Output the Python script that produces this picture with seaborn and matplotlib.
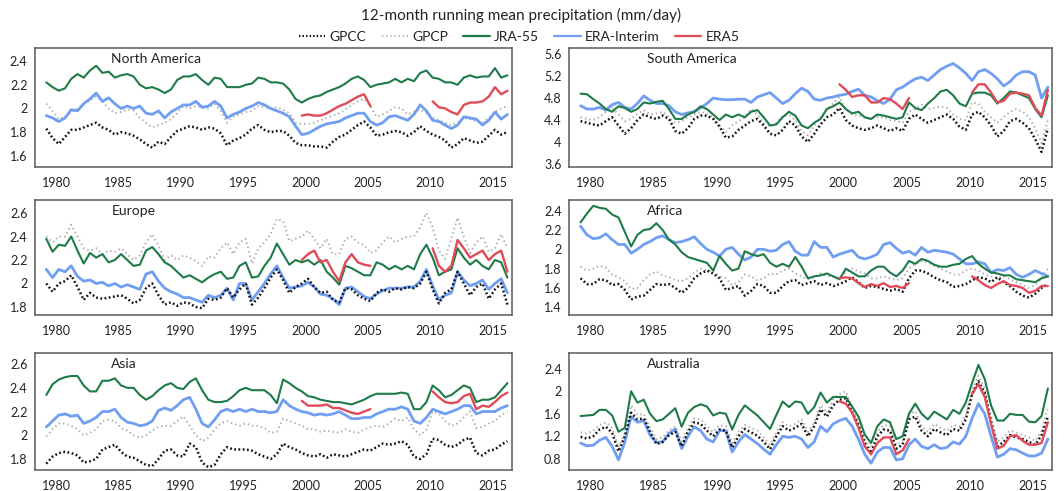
import numpy as np
import matplotlib
matplotlib.use("Agg")
import matplotlib.pyplot as plt
from matplotlib.lines import Line2D
from matplotlib.ticker import FuncFormatter, FixedLocator, MultipleLocator
import seaborn as sns

# semi-annual sampling positions of the 12-month running means
YEARS = np.round(np.arange(1979.2, 2016.25, 0.5), 2)
ERA5_A_YEARS = YEARS[41:53]
ERA5_B_YEARS = YEARS[62:75]

# ---------------- North America ----------------
na_gpcc = [1.83, 1.75, 1.70, 1.76, 1.82, 1.82, 1.84, 1.86, 1.88, 1.84,
           1.82, 1.78, 1.80, 1.79, 1.77, 1.74, 1.70, 1.67, 1.72, 1.70,
           1.76, 1.81, 1.83, 1.85, 1.84, 1.82, 1.84, 1.83, 1.79, 1.69,
           1.73, 1.75, 1.78, 1.83, 1.86, 1.82, 1.80, 1.81, 1.81, 1.77,
           1.71, 1.69, 1.69, 1.68, 1.68, 1.67, 1.72, 1.76, 1.78, 1.82,
           1.86, 1.89, 1.84, 1.77, 1.78, 1.80, 1.81, 1.80, 1.77, 1.80,
           1.85, 1.81, 1.78, 1.76, 1.73, 1.67, 1.70, 1.75, 1.73, 1.71,
           1.72, 1.77, 1.82, 1.78, 1.80]
na_gpcp = [2.04, 1.98, 1.91, 1.93, 1.97, 2.00, 2.04, 2.07, 2.10, 2.06,
           2.00, 1.96, 1.97, 1.99, 1.98, 1.92, 1.88, 1.84, 1.86, 1.88,
           1.91, 1.96, 2.02, 2.00, 2.02, 2.01, 2.00, 2.04, 1.98, 1.88,
           1.93, 1.95, 1.97, 1.98, 2.02, 2.01, 2.00, 2.01, 1.99, 1.96,
           1.88, 1.87, 1.87, 1.88, 1.90, 1.92, 1.94, 1.96, 1.99, 2.03,
           2.06, 2.08, 2.02, 1.93, 1.95, 1.98, 2.01, 2.00, 1.95, 1.97,
           1.99, 1.96, 1.92, 1.90, 1.88, 1.86, 1.88, 1.92, 1.91, 1.89,
           1.88, 1.92, 1.97, 2.00, 2.02]
na_jra = [2.22, 2.18, 2.15, 2.17, 2.25, 2.29, 2.26, 2.32, 2.36, 2.30,
          2.31, 2.26, 2.28, 2.29, 2.27, 2.20, 2.17, 2.18, 2.16, 2.13,
          2.16, 2.24, 2.27, 2.27, 2.29, 2.24, 2.20, 2.26, 2.25, 2.18,
          2.18, 2.18, 2.20, 2.21, 2.26, 2.25, 2.22, 2.22, 2.21, 2.16,
          2.08, 2.05, 2.08, 2.10, 2.11, 2.14, 2.16, 2.18, 2.21, 2.25,
          2.27, 2.24, 2.18, 2.20, 2.21, 2.22, 2.25, 2.22, 2.25, 2.23,
          2.30, 2.32, 2.26, 2.25, 2.22, 2.22, 2.20, 2.26, 2.28, 2.26,
          2.27, 2.27, 2.34, 2.26, 2.28]
na_erai = [1.94, 1.92, 1.89, 1.92, 1.99, 1.98, 2.04, 2.08, 2.13, 2.06,
           2.09, 2.04, 2.00, 2.02, 2.00, 2.02, 1.96, 1.95, 1.98, 1.92,
           1.97, 2.00, 2.03, 2.03, 2.06, 2.01, 2.02, 2.06, 2.02, 1.92,
           1.95, 1.97, 2.00, 2.02, 2.05, 2.03, 2.00, 1.98, 1.96, 1.93,
           1.85, 1.78, 1.79, 1.82, 1.85, 1.87, 1.88, 1.89, 1.92, 1.94,
           1.96, 1.96, 1.89, 1.86, 1.88, 1.93, 1.94, 1.92, 1.90, 1.95,
           2.03, 1.98, 1.90, 1.89, 1.86, 1.83, 1.86, 1.93, 1.92, 1.91,
           1.86, 1.90, 1.97, 1.91, 1.95]
na_era5_a = [1.94, 1.95, 1.94, 1.94, 1.96, 1.99, 2.02, 2.04, 2.07, 2.10, 2.12, 2.02]
na_era5_b = [2.06, 2.01, 2.00, 1.97, 1.95, 2.03, 2.05, 2.05, 2.06, 2.10, 2.18, 2.12, 2.15]

# ---------------- South America ----------------
sa_gpcc = [4.38, 4.35, 4.32, 4.30, 4.38, 4.45, 4.30, 4.15, 4.25, 4.40,
           4.50, 4.45, 4.42, 4.48, 4.42, 4.20, 4.15, 4.25, 4.42, 4.48,
           4.48, 4.42, 4.28, 4.08, 4.10, 4.22, 4.30, 4.38, 4.42, 4.30,
           4.15, 4.12, 4.22, 4.38, 4.30, 4.10, 4.00, 4.15, 4.32, 4.45,
           4.50, 4.62, 4.40, 4.30, 4.25, 4.22, 4.25, 4.30, 4.25, 4.20,
           4.25, 4.20, 4.42, 4.50, 4.42, 4.35, 4.40, 4.45, 4.50, 4.42,
           4.28, 4.22, 4.50, 4.55, 4.45, 4.30, 4.10, 4.20, 4.38, 4.42,
           4.35, 4.25, 4.05, 3.82, 4.25]
sa_gpcp = [4.45, 4.42, 4.40, 4.45, 4.55, 4.62, 4.50, 4.38, 4.42, 4.52,
           4.58, 4.50, 4.52, 4.55, 4.45, 4.35, 4.38, 4.45, 4.50, 4.55,
           4.52, 4.45, 4.30, 4.18, 4.30, 4.38, 4.45, 4.60, 4.50, 4.35,
           4.28, 4.35, 4.48, 4.50, 4.40, 4.20, 4.12, 4.30, 4.45, 4.60,
           4.70, 4.82, 4.60, 4.50, 4.48, 4.45, 4.42, 4.45, 4.45, 4.40,
           4.38, 4.35, 4.55, 4.60, 4.68, 4.60, 4.62, 4.65, 4.62, 4.50,
           4.42, 4.40, 4.72, 4.70, 4.55, 4.45, 4.35, 4.45, 4.55, 4.60,
           4.55, 4.45, 4.25, 3.98, 4.40]
sa_jra = [4.88, 4.87, 4.78, 4.70, 4.60, 4.55, 4.65, 4.62, 4.55, 4.60,
          4.72, 4.70, 4.73, 4.75, 4.60, 4.42, 4.42, 4.50, 4.55, 4.65,
          4.60, 4.50, 4.40, 4.50, 4.45, 4.50, 4.45, 4.55, 4.58, 4.45,
          4.30, 4.32, 4.45, 4.55, 4.48, 4.30, 4.25, 4.35, 4.42, 4.60,
          4.65, 4.72, 4.60, 4.52, 4.55, 4.45, 4.42, 4.50, 4.48, 4.45,
          4.42, 4.45, 4.72, 4.62, 4.58, 4.70, 4.80, 4.92, 4.95, 4.85,
          4.70, 4.65, 4.88, 4.90, 4.90, 4.85, 4.70, 4.80, 4.92, 4.90,
          4.85, 4.80, 4.60, 4.45, 4.85]
sa_erai = [4.66, 4.60, 4.60, 4.63, 4.58, 4.68, 4.72, 4.63, 4.60, 4.70,
           4.84, 4.76, 4.70, 4.70, 4.66, 4.55, 4.50, 4.53, 4.55, 4.62,
           4.70, 4.80, 4.78, 4.77, 4.77, 4.78, 4.78, 4.72, 4.82, 4.86,
           4.90, 4.80, 4.70, 4.76, 4.88, 4.98, 4.92, 4.78, 4.76, 4.80,
           4.82, 4.85, 4.87, 4.92, 4.96, 4.85, 4.82, 4.75, 4.70, 4.78,
           4.95, 5.00, 5.08, 5.15, 5.18, 5.12, 5.22, 5.32, 5.38, 5.43,
           5.35, 5.25, 5.12, 5.28, 5.32, 5.25, 5.15, 5.02, 5.10, 5.22,
           5.28, 5.28, 5.22, 4.80, 5.00]
sa_era5_a = [5.05, 4.95, 4.82, 4.85, 4.85, 4.72, 4.72, 4.80, 4.78, 4.70, 4.60, 4.80]
sa_era5_b = [4.90, 5.05, 5.05, 4.90, 4.72, 4.75, 4.88, 4.90, 4.88, 4.85, 4.62, 4.48, 4.95]

# ---------------- Europe ----------------
eu_gpcc = [2.00, 1.93, 2.00, 2.02, 2.07, 1.97, 1.86, 1.92, 1.88, 1.87,
           1.88, 1.89, 1.90, 1.87, 1.83, 1.86, 1.96, 2.00, 1.90, 1.82,
           1.84, 1.81, 1.84, 1.83, 1.80, 1.79, 1.87, 1.86, 1.88, 1.96,
           1.88, 1.95, 2.00, 1.82, 1.88, 1.96, 2.05, 2.12, 2.03, 1.92,
           1.97, 2.00, 2.04, 1.97, 1.92, 1.93, 1.86, 1.84, 1.96, 1.95,
           1.90, 1.87, 1.85, 1.92, 1.95, 1.93, 1.96, 1.95, 1.97, 1.96,
           2.00, 2.10, 1.95, 1.83, 1.92, 1.95, 2.10, 2.00, 1.90, 1.97,
           2.00, 1.87, 1.95, 2.00, 1.82]
eu_gpcp = [2.40, 2.35, 2.40, 2.40, 2.50, 2.40, 2.30, 2.28, 2.30, 2.25,
           2.28, 2.27, 2.30, 2.25, 2.20, 2.24, 2.35, 2.42, 2.32, 2.20,
           2.24, 2.20, 2.24, 2.22, 2.19, 2.15, 2.23, 2.22, 2.30, 2.35,
           2.25, 2.35, 2.38, 2.17, 2.30, 2.35, 2.42, 2.55, 2.53, 2.36,
           2.38, 2.40, 2.45, 2.38, 2.30, 2.38, 2.25, 2.25, 2.38, 2.40,
           2.35, 2.33, 2.26, 2.28, 2.35, 2.40, 2.35, 2.38, 2.40, 2.40,
           2.48, 2.60, 2.48, 2.28, 2.21, 2.38, 2.56, 2.40, 2.26, 2.35,
           2.40, 2.27, 2.30, 2.42, 2.30]
eu_jra = [2.38, 2.27, 2.33, 2.32, 2.40, 2.28, 2.17, 2.26, 2.22, 2.25,
          2.18, 2.20, 2.25, 2.20, 2.15, 2.16, 2.28, 2.31, 2.25, 2.18,
          2.15, 2.10, 2.05, 2.07, 2.04, 2.01, 2.05, 2.08, 2.10, 2.04,
          2.05, 2.15, 2.18, 2.05, 2.06, 2.15, 2.22, 2.34, 2.25, 2.16,
          2.20, 2.18, 2.20, 2.16, 2.20, 2.10, 2.05, 1.99, 2.15, 2.13,
          2.10, 2.07, 2.07, 2.18, 2.16, 2.12, 2.15, 2.12, 2.15, 2.12,
          2.25, 2.33, 2.22, 2.07, 2.10, 2.12, 2.30, 2.22, 2.16, 2.20,
          2.15, 2.12, 2.20, 2.18, 2.05]
eu_erai = [2.12, 2.05, 2.12, 2.10, 2.15, 2.06, 2.02, 2.03, 2.00, 2.01,
           1.98, 2.00, 1.97, 1.99, 1.97, 1.95, 2.08, 2.10, 2.02, 1.96,
           1.93, 1.91, 1.88, 1.88, 1.86, 1.84, 1.90, 1.88, 1.90, 1.96,
           1.86, 2.00, 2.00, 1.86, 1.93, 2.00, 2.08, 2.15, 2.05, 1.96,
           1.97, 1.98, 2.01, 1.97, 1.91, 1.90, 1.87, 1.82, 1.96, 1.97,
           1.93, 1.89, 1.87, 1.91, 1.94, 1.96, 1.96, 1.96, 1.97, 1.97,
           2.02, 2.12, 1.98, 1.86, 1.90, 1.92, 2.10, 2.03, 1.98, 2.00,
           2.03, 1.95, 2.00, 2.04, 1.92]
eu_era5_a = [2.20, 2.25, 2.28, 2.18, 2.20, 2.10, 2.02, 2.18, 2.25, 2.18, 2.16, 2.15]
eu_era5_b = [2.30, 2.15, 2.10, 2.15, 2.37, 2.30, 2.22, 2.25, 2.28, 2.20, 2.25, 2.28, 2.10]

# ---------------- Africa ----------------
af_gpcc = [1.70, 1.64, 1.64, 1.69, 1.68, 1.63, 1.64, 1.58, 1.48, 1.51,
           1.52, 1.58, 1.64, 1.63, 1.64, 1.60, 1.55, 1.60, 1.70, 1.75,
           1.78, 1.75, 1.70, 1.58, 1.60, 1.62, 1.52, 1.57, 1.64, 1.62,
           1.55, 1.55, 1.62, 1.67, 1.68, 1.63, 1.65, 1.67, 1.63, 1.65,
           1.62, 1.64, 1.67, 1.71, 1.66, 1.60, 1.62, 1.61, 1.59, 1.57,
           1.59, 1.56, 1.70, 1.78, 1.78, 1.75, 1.71, 1.68, 1.66, 1.61,
           1.62, 1.64, 1.68, 1.71, 1.70, 1.66, 1.71, 1.66, 1.62, 1.56,
           1.52, 1.50, 1.54, 1.60, 1.64]
af_gpcp = [1.82, 1.78, 1.80, 1.83, 1.81, 1.74, 1.71, 1.67, 1.59, 1.60,
           1.68, 1.74, 1.77, 1.73, 1.71, 1.68, 1.67, 1.70, 1.76, 1.80,
           1.78, 1.78, 1.72, 1.70, 1.63, 1.66, 1.74, 1.72, 1.68, 1.70,
           1.75, 1.74, 1.78, 1.80, 1.75, 1.72, 1.69, 1.71, 1.75, 1.72,
           1.72, 1.70, 1.76, 1.80, 1.77, 1.75, 1.70, 1.70, 1.72, 1.70,
           1.68, 1.70, 1.80, 1.85, 1.88, 1.86, 1.83, 1.80, 1.77, 1.74,
           1.74, 1.78, 1.80, 1.78, 1.74, 1.72, 1.70, 1.72, 1.69, 1.66,
           1.63, 1.60, 1.63, 1.70, 1.80]
af_jra = [2.28, 2.37, 2.45, 2.43, 2.42, 2.36, 2.33, 2.18, 2.03, 2.15,
          2.20, 2.21, 2.27, 2.20, 2.10, 2.05, 1.97, 1.92, 1.90, 1.88,
          1.86, 1.78, 1.93, 1.85, 1.78, 1.80, 1.98, 1.95, 1.93, 1.95,
          1.86, 1.82, 1.85, 1.82, 1.92, 1.82, 1.70, 1.72, 1.73, 1.75,
          1.72, 1.69, 1.80, 1.76, 1.72, 1.72, 1.78, 1.82, 1.82, 1.76,
          1.72, 1.78, 1.88, 1.85, 1.90, 1.88, 1.84, 1.82, 1.82, 1.84,
          1.85, 1.90, 1.93, 1.85, 1.80, 1.76, 1.75, 1.73, 1.73, 1.69,
          1.68, 1.67, 1.66, 1.70, 1.72]
af_erai = [2.24, 2.15, 2.11, 2.12, 2.16, 2.10, 2.05, 2.05, 1.96, 2.00,
           2.05, 2.08, 2.12, 2.14, 2.10, 2.07, 2.08, 2.10, 2.13, 2.06,
           2.00, 1.97, 1.93, 2.00, 2.02, 1.95, 1.89, 1.92, 2.00, 2.00,
           1.98, 1.99, 2.05, 2.08, 1.98, 1.94, 1.94, 2.08, 2.02, 2.02,
           1.92, 1.95, 1.97, 1.99, 1.92, 1.90, 1.92, 1.95, 2.05, 2.07,
           2.01, 1.96, 1.98, 1.94, 2.02, 1.97, 1.99, 1.98, 1.97, 1.95,
           1.90, 1.85, 1.85, 1.87, 1.85, 1.76, 1.79, 1.78, 1.81, 1.74,
           1.71, 1.74, 1.78, 1.75, 1.72]
af_era5_a = [1.70, 1.71, 1.70, 1.65, 1.61, 1.64, 1.62, 1.65, 1.61, 1.62, 1.60, 1.65]
af_era5_b = [1.72, 1.68, 1.63, 1.60, 1.64, 1.67, 1.63, 1.62, 1.60, 1.55, 1.57, 1.62, 1.62]

# ---------------- Asia ----------------
as_gpcc = [1.76, 1.82, 1.85, 1.86, 1.85, 1.83, 1.77, 1.78, 1.80, 1.88,
           1.90, 1.92, 1.86, 1.82, 1.81, 1.78, 1.75, 1.74, 1.80, 1.87,
           1.88, 1.83, 1.82, 1.93, 1.90, 1.77, 1.73, 1.75, 1.84, 1.90,
           1.88, 1.88, 1.88, 1.87, 1.84, 1.82, 1.80, 1.84, 1.93, 1.90,
           1.88, 1.85, 1.83, 1.82, 1.84, 1.81, 1.84, 1.83, 1.82, 1.84,
           1.86, 1.88, 1.87, 1.90, 1.93, 1.92, 1.93, 1.95, 1.92, 1.82,
           1.80, 1.84, 1.97, 1.96, 1.92, 1.90, 1.92, 1.96, 1.98, 1.85,
           1.83, 1.87, 1.88, 1.92, 1.95]
as_gpcp = [1.99, 2.05, 2.10, 2.10, 2.08, 2.05, 2.00, 2.02, 2.05, 2.12,
           2.13, 2.12, 2.06, 2.04, 2.00, 1.98, 2.00, 2.04, 2.07, 2.08,
           2.08, 2.12, 2.16, 2.08, 2.00, 1.95, 1.98, 2.05, 2.10, 2.12,
           2.10, 2.08, 2.10, 2.08, 2.08, 2.06, 2.02, 2.03, 2.14, 2.12,
           2.10, 2.08, 2.05, 2.05, 2.03, 2.04, 2.03, 2.02, 2.05, 2.03,
           2.02, 2.05, 2.07, 2.08, 2.07, 2.10, 2.14, 2.12, 2.15, 2.05,
           2.00, 2.05, 2.20, 2.18, 2.12, 2.08, 2.10, 2.15, 2.20, 2.06,
           2.07, 2.10, 2.12, 2.17, 2.20]
as_jra = [2.34, 2.43, 2.47, 2.49, 2.50, 2.50, 2.42, 2.37, 2.37, 2.46,
          2.46, 2.48, 2.42, 2.40, 2.40, 2.34, 2.30, 2.33, 2.38, 2.42,
          2.44, 2.40, 2.39, 2.45, 2.48, 2.38, 2.30, 2.28, 2.28, 2.29,
          2.33, 2.38, 2.40, 2.38, 2.38, 2.38, 2.34, 2.27, 2.47, 2.44,
          2.40, 2.37, 2.33, 2.32, 2.30, 2.29, 2.28, 2.28, 2.27, 2.26,
          2.28, 2.30, 2.33, 2.35, 2.35, 2.35, 2.35, 2.36, 2.35, 2.22,
          2.22, 2.28, 2.42, 2.38, 2.32, 2.34, 2.38, 2.42, 2.40, 2.28,
          2.30, 2.30, 2.32, 2.38, 2.44]
as_erai = [2.07, 2.12, 2.17, 2.18, 2.16, 2.17, 2.10, 2.12, 2.15, 2.20,
           2.20, 2.22, 2.15, 2.11, 2.10, 2.08, 2.09, 2.12, 2.21, 2.23,
           2.21, 2.25, 2.30, 2.32, 2.22, 2.10, 2.07, 2.13, 2.20, 2.22,
           2.20, 2.22, 2.20, 2.22, 2.20, 2.20, 2.19, 2.20, 2.30, 2.25,
           2.22, 2.20, 2.19, 2.17, 2.18, 2.17, 2.18, 2.20, 2.17, 2.14,
           2.14, 2.15, 2.15, 2.18, 2.20, 2.22, 2.22, 2.24, 2.22, 2.12,
           2.10, 2.15, 2.22, 2.20, 2.18, 2.20, 2.22, 2.25, 2.25, 2.18,
           2.20, 2.20, 2.20, 2.23, 2.25]
as_era5_a = [2.29, 2.25, 2.25, 2.25, 2.26, 2.23, 2.23, 2.21, 2.19, 2.18, 2.20, 2.22]
as_era5_b = [2.37, 2.32, 2.28, 2.27, 2.28, 2.33, 2.35, 2.22, 2.25, 2.24, 2.28, 2.33, 2.36]

# ---------------- Australia ----------------
au_gpcc = [1.19, 1.16, 1.20, 1.32, 1.37, 1.26, 0.93, 1.20, 1.62, 1.50,
           1.52, 1.28, 1.06, 1.10, 1.22, 1.28, 1.02, 1.28, 1.45, 1.42,
           1.30, 1.20, 1.32, 1.30, 1.00, 1.20, 1.33, 1.27, 1.21, 1.10,
           0.97, 1.20, 1.38, 1.30, 1.35, 1.42, 1.20, 1.38, 1.68, 1.55,
           1.75, 1.85, 1.88, 1.63, 1.40, 1.08, 0.90, 1.20, 1.32, 1.30,
           0.98, 1.05, 1.50, 1.55, 1.30, 1.20, 1.33, 1.27, 1.22, 1.33,
           1.30, 1.50, 1.95, 2.18, 1.97, 1.45, 1.02, 1.10, 1.22, 1.18,
           1.15, 1.10, 1.05, 1.22, 1.55]
au_gpcp = [1.27, 1.25, 1.30, 1.40, 1.45, 1.35, 1.00, 1.25, 1.75, 1.58,
           1.60, 1.35, 1.15, 1.18, 1.30, 1.38, 1.10, 1.35, 1.52, 1.50,
           1.38, 1.28, 1.40, 1.38, 1.08, 1.28, 1.40, 1.35, 1.30, 1.18,
           1.05, 1.27, 1.45, 1.38, 1.42, 1.50, 1.28, 1.45, 1.75, 1.62,
           1.85, 1.95, 2.00, 1.72, 1.45, 1.15, 0.98, 1.28, 1.40, 1.38,
           1.05, 1.12, 1.58, 1.65, 1.38, 1.28, 1.42, 1.35, 1.30, 1.40,
           1.38, 1.58, 2.02, 2.28, 2.05, 1.55, 1.10, 1.18, 1.30, 1.27,
           1.22, 1.18, 1.12, 1.30, 1.70]
au_jra = [1.56, 1.57, 1.58, 1.67, 1.67, 1.57, 1.28, 1.35, 2.00, 1.80,
          1.85, 1.60, 1.47, 1.50, 1.60, 1.70, 1.37, 1.62, 1.72, 1.77,
          1.73, 1.57, 1.62, 1.60, 1.32, 1.58, 1.75, 1.66, 1.57, 1.45,
          1.33, 1.58, 1.82, 1.72, 1.82, 1.80, 1.60, 1.72, 1.98, 1.80,
          1.90, 1.90, 1.90, 1.73, 1.55, 1.23, 1.08, 1.38, 1.50, 1.45,
          1.15, 1.20, 1.60, 1.78, 1.60, 1.50, 1.64, 1.57, 1.50, 1.67,
          1.60, 1.80, 2.15, 2.47, 2.22, 1.75, 1.48, 1.48, 1.60, 1.58,
          1.58, 1.46, 1.45, 1.56, 2.05]
au_erai = [1.08, 1.03, 1.04, 1.13, 1.18, 1.02, 0.78, 1.10, 1.55, 1.45,
           1.48, 1.22, 1.09, 1.10, 1.25, 1.33, 0.98, 1.20, 1.37, 1.30,
           1.15, 1.10, 1.30, 1.30, 0.92, 1.10, 1.23, 1.15, 1.07, 0.97,
           0.88, 1.05, 1.20, 1.18, 1.20, 1.15, 1.00, 1.10, 1.38, 1.28,
           1.42, 1.48, 1.52, 1.38, 1.15, 0.88, 0.72, 0.92, 1.00, 1.00,
           0.78, 0.80, 1.05, 1.15, 1.02, 0.98, 1.05, 0.98, 1.00, 1.10,
           1.06, 1.20, 1.52, 1.78, 1.60, 1.20, 0.83, 0.88, 0.98, 0.96,
           0.90, 0.85, 0.85, 0.90, 1.15]
au_era5_a = [1.82, 1.78, 1.62, 1.35, 1.02, 0.88, 1.08, 1.18, 1.18, 0.88, 0.95, 1.15]
au_era5_b = [1.95, 2.13, 1.90, 1.42, 0.98, 1.03, 1.20, 1.22, 1.12, 1.05, 1.05, 1.08, 1.45]

REGIONS = ["North America", "South America", "Europe", "Africa", "Asia", "Australia"]
SERIES_NAMES = ["GPCC", "GPCP", "JRA-55", "ERA-Interim", "ERA5"]

# ---------------- styling ----------------
sns.set_style("white")
plt.rcParams['font.family'] = ['Lato', 'DejaVu Sans']

C_GPCC = "#111111"
C_GPCP = "#a9a9a9"
C_JRA = "#1e7b48"
C_ERAI = "#6f9ef2"
C_ERA5 = "#e04b57"
FRAME = "#5a5a5a"
DOT_GPCC = (0.7, 1.0)
DOT_GPCP = (0.7, 1.6)

fig = plt.figure(figsize=(10.64, 4.91), dpi=100)

LEFT_X, LEFT_W = 0.033, 0.448
RIGHT_X, RIGHT_W = 0.535, 0.454
ROWS = [(0.660, 0.242), (0.3585, 0.234), (0.0428, 0.238)]

panels = [
    ("North America", (LEFT_X, LEFT_W), 0, na_gpcc, na_gpcp, na_jra, na_erai, na_era5_a, na_era5_b,
     (1.507, 2.509), [1.6, 1.8, 2.0, 2.2, 2.4]),
    ("South America", (RIGHT_X, RIGHT_W), 0, sa_gpcc, sa_gpcp, sa_jra, sa_erai, sa_era5_a, sa_era5_b,
     (3.545, 5.71), [3.6, 4.0, 4.4, 4.8, 5.2, 5.6]),
    ("Europe", (LEFT_X, LEFT_W), 1, eu_gpcc, eu_gpcp, eu_jra, eu_erai, eu_era5_a, eu_era5_b,
     (1.732, 2.71), [1.8, 2.0, 2.2, 2.4, 2.6]),
    ("Africa", (RIGHT_X, RIGHT_W), 1, af_gpcc, af_gpcp, af_jra, af_erai, af_era5_a, af_era5_b,
     (1.32, 2.51), [1.4, 1.6, 1.8, 2.0, 2.2, 2.4]),
    ("Asia", (LEFT_X, LEFT_W), 2, as_gpcc, as_gpcp, as_jra, as_erai, as_era5_a, as_era5_b,
     (1.707, 2.693), [1.8, 2.0, 2.2, 2.4, 2.6]),
    ("Australia", (RIGHT_X, RIGHT_W), 2, au_gpcc, au_gpcp, au_jra, au_erai, au_era5_a, au_era5_b,
     (0.60, 2.68), [0.8, 1.2, 1.6, 2.0, 2.4]),
]


def draw(ax, x, y, color, lw, dashes=None, z=2):
    sns.lineplot(x=np.asarray(x), y=np.asarray(y, dtype=float), ax=ax, color=color,
                 linewidth=lw, legend=False, errorbar=None, sort=False, zorder=z)
    line = ax.lines[-1]
    if dashes is not None:
        line.set_dashes(dashes)
        line.set_dash_capstyle("butt")
    return line


for (name, (x0, w), row, gpcc, gpcp, jra, erai, e5a, e5b, ylim, yticks) in panels:
    b, h = ROWS[row]
    ax = fig.add_axes([x0, b, w, h])
    draw(ax, YEARS, gpcp, C_GPCP, 1.4, dashes=DOT_GPCP, z=2)
    draw(ax, YEARS, erai, C_ERAI, 2.0, z=3)
    draw(ax, YEARS, gpcc, C_GPCC, 1.8, dashes=DOT_GPCC, z=4)
    draw(ax, YEARS, jra, C_JRA, 1.5, z=5)
    draw(ax, ERA5_A_YEARS, e5a, C_ERA5, 1.7, z=6)
    draw(ax, ERA5_B_YEARS, e5b, C_ERA5, 1.7, z=6)

    ax.set_xlim(1978.3, 2016.55)
    ax.set_ylim(*ylim)
    ax.set_xlabel("")
    ax.set_ylabel("")
    ax.xaxis.set_major_locator(FixedLocator([1980, 1985, 1990, 1995, 2000, 2005, 2010, 2015]))
    ax.xaxis.set_minor_locator(MultipleLocator(1))
    ax.yaxis.set_major_locator(FixedLocator(yticks))
    ax.yaxis.set_major_formatter(FuncFormatter(lambda v, p: f"{v:g}"))
    ax.tick_params(axis="both", which="both", direction="out", color=FRAME,
                   labelsize=9, labelcolor="#222222", pad=2)
    ax.tick_params(axis="both", which="major", length=3.5, width=0.8)
    ax.tick_params(axis="x", which="minor", length=3, width=0.8)
    ax.tick_params(axis="x", pad=4)
    for sp in ax.spines.values():
        sp.set_color(FRAME)
        sp.set_linewidth(1.1)
    ax.text(0.16, 0.96, name, transform=ax.transAxes, ha="left", va="top",
            fontsize=10, color="#222222")

fig.text(0.49, 0.968, "12-month running mean precipitation (mm/day)", ha="center",
         va="center", fontsize=11, color="#222222")

handles = [
    Line2D([], [], color=C_GPCC, lw=1.5, dashes=DOT_GPCC),
    Line2D([], [], color=C_GPCP, lw=1.3, dashes=DOT_GPCP),
    Line2D([], [], color=C_JRA, lw=1.6),
    Line2D([], [], color=C_ERAI, lw=1.6),
    Line2D([], [], color=C_ERA5, lw=1.6),
]
fig.legend(handles, SERIES_NAMES, loc="center", bbox_to_anchor=(0.488, 0.924), ncol=5,
           frameon=False, fontsize=10, handlelength=1.9, handletextpad=0.3,
           columnspacing=1.1, labelcolor="#222222")

fig.savefig("out.png", dpi=100, facecolor="white")
